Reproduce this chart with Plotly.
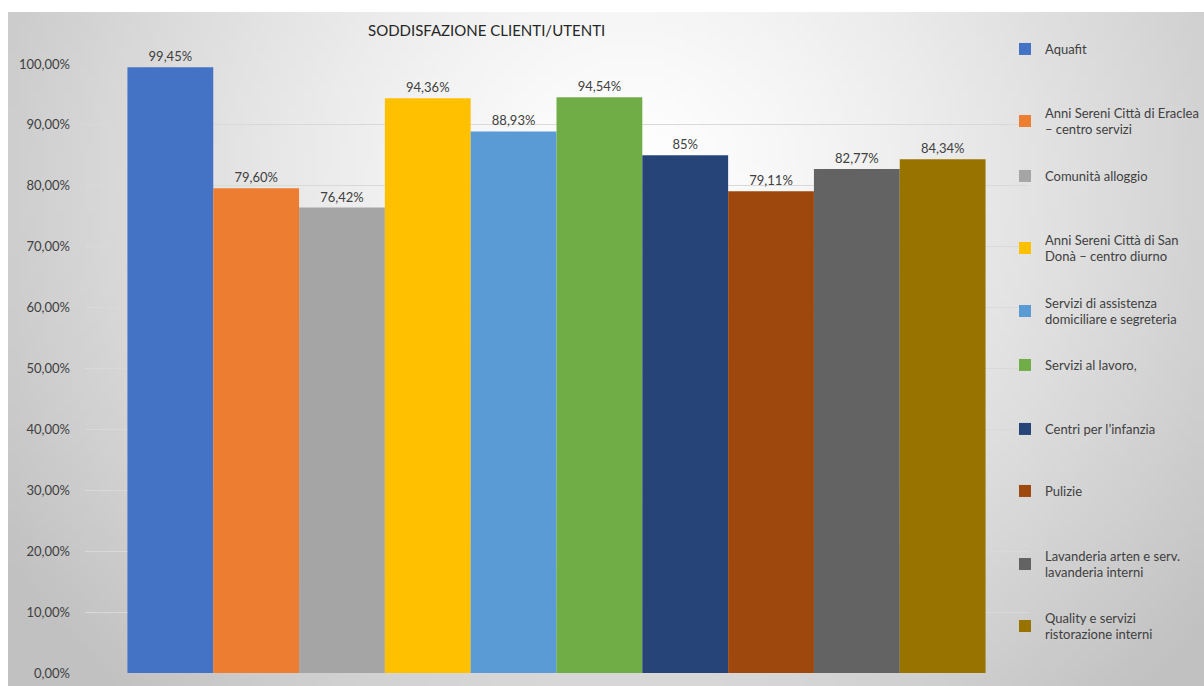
import base64
import struct
import zlib

import plotly.graph_objects as go

# Customer / user satisfaction per service (percent)
services = [
    "Aquafit",
    "Anni Sereni Città di Eraclea<br>– centro servizi",
    "Comunità alloggio",
    "Anni Sereni Città di San<br>Donà – centro diurno",
    "Servizi di assistenza<br>domiciliare e segreteria",
    "Servizi al lavoro,",
    "Centri per l’infanzia",
    "Pulizie",
    "Lavanderia arten e serv.<br>lavanderia interni",
    "Quality e servizi<br>ristorazione interni",
]
satisfaction = [99.45, 79.60, 76.42, 94.36, 88.93, 94.54, 85.0, 79.11, 82.77, 84.34]
bar_colors = [
    "#4472C4", "#ED7D31", "#A5A5A5", "#FFC000", "#5B9BD5",
    "#70AD47", "#264478", "#9E480E", "#636363", "#997300",
]
# vertical centre (px from top) of each legend entry
legend_centers_px = [49, 121, 176, 248, 311, 365, 429, 491, 564, 626]

W, H = 1204, 686
M_L, M_R, M_T, M_B = 85, 176, 64, 13
PLOT_W = W - M_L - M_R
PLOT_H = H - M_T - M_B
FONT = "Lato"
TXT = "#404040"


def px_to_paper_x(px):
    return (px - M_L) / PLOT_W


def px_to_paper_y(py):
    return (H - M_B - py) / PLOT_H


def fmt_pct(v):
    if float(v).is_integer():
        return f"{int(v)}%"
    return f"{v:.2f}".replace(".", ",") + "%"


def radial_gradient_png(w, h, cx, cy, rx, ry):
    """Small grayscale PNG: white centre fading to light grey at the edges."""
    rows = []
    for j in range(h):
        row = bytearray([0])
        for i in range(w):
            dx = (i + 0.5) / w - cx
            dy = (j + 0.5) / h - cy
            t = min(((dx / rx) ** 2 + (dy / ry) ** 2) ** 0.5, 1.0)
            row.append(int(round(255 - 62 * t ** 1.3)))
        rows.append(bytes(row))
    raw = zlib.compress(b"".join(rows), 9)

    def chunk(tag, data):
        c = struct.pack(">I", len(data)) + tag + data
        return c + struct.pack(">I", zlib.crc32(tag + data) & 0xFFFFFFFF)

    png = b"\x89PNG\r\n\x1a\n"
    png += chunk(b"IHDR", struct.pack(">IIBBBBB", w, h, 8, 0, 0, 0, 0))
    png += chunk(b"IDAT", raw)
    png += chunk(b"IEND", b"")
    return "data:image/png;base64," + base64.b64encode(png).decode()


fig = go.Figure()
for i, (name, val, col) in enumerate(zip(services, satisfaction, bar_colors)):
    fig.add_trace(go.Bar(
        x=["Soddisfazione"],
        y=[val],
        name=name,
        marker=dict(color=col, line=dict(width=0)),
        text=[fmt_pct(val)],
        textposition="outside",
        texttemplate="%{text}",
        textfont=dict(family=FONT, size=13, color=TXT),
        cliponaxis=False,
        hoverinfo="skip",
        legend="legend" if i == 0 else f"legend{i + 1}",
    ))

# one legend box per entry so each can sit at its own height
legend_x = px_to_paper_x(1005)
legend_layout = {}
for i, cy in enumerate(legend_centers_px):
    key = "legend" if i == 0 else f"legend{i + 1}"
    legend_layout[key] = dict(
        x=legend_x, xanchor="left",
        y=px_to_paper_y(cy), yanchor="middle",
        bgcolor="rgba(0,0,0,0)", borderwidth=0,
        font=dict(family=FONT, size=13, color=TXT),
        itemclick=False, itemdoubleclick=False,
    )

bg_left, bg_top = 8, 12
fig.update_layout(
    width=W, height=H,
    margin=dict(l=M_L, r=M_R, t=M_T, b=M_B, autoexpand=False),
    paper_bgcolor="white",
    plot_bgcolor="rgba(0,0,0,0)",
    separators=",.",
    barmode="group",
    bargap=0.09,
    bargroupgap=0,
    showlegend=True,
    font=dict(family=FONT, size=13, color=TXT),
    xaxis=dict(type="category", showticklabels=False, ticks="",
               showgrid=False, zeroline=False, showline=False,
               fixedrange=True),
    yaxis=dict(range=[0, 100], dtick=10, tickformat=".2f", ticksuffix="%",
               showgrid=True, gridcolor="#d9d9d9", gridwidth=1,
               zeroline=False, showline=False, ticks="",
               ticklabelstandoff=14,
               tickfont=dict(family=FONT, size=13, color=TXT),
               fixedrange=True),
    images=[dict(
        source=radial_gradient_png(160, 90, 0.52, 0.25, 0.62, 1.05),
        xref="paper", yref="paper",
        x=px_to_paper_x(bg_left), y=px_to_paper_y(bg_top),
        sizex=(W - bg_left) / PLOT_W, sizey=(H - bg_top) / PLOT_H,
        xanchor="left", yanchor="top",
        sizing="stretch", layer="below",
    )],
    annotations=[dict(
        text="SODDISFAZIONE CLIENTI/UTENTI",
        xref="paper", yref="paper",
        x=px_to_paper_x(486), y=px_to_paper_y(30),
        xanchor="center", yanchor="middle",
        showarrow=False,
        font=dict(family=FONT, size=15, color="#262626"),
    )],
    **legend_layout,
)

fig.write_html("out.html")
